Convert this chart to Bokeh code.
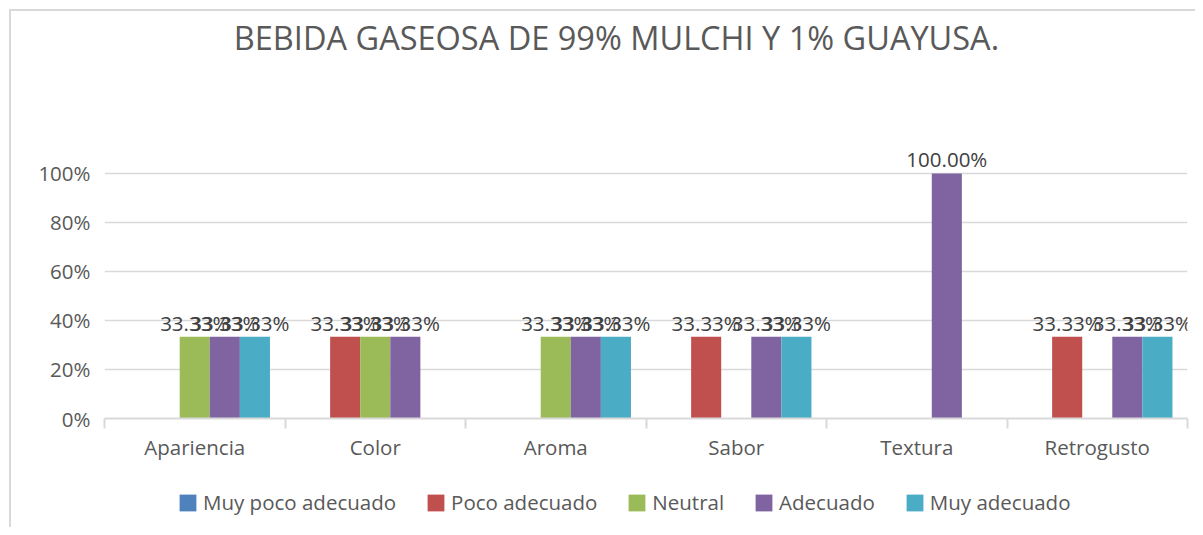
from bokeh.plotting import figure
from bokeh.layouts import column
from bokeh.models import (ColumnDataSource, Range1d, FixedTicker, NumeralTickFormatter,
                          Legend, LegendItem, Label)
from bokeh.embed import file_html
from bokeh.resources import INLINE
from bokeh.core.properties import value

title_text = "BEBIDA GASEOSA DE 99% MULCHI Y 1% GUAYUSA."
categories = ["Apariencia", "Color", "Aroma", "Sabor", "Textura", "Retrogusto"]
series_names = ["Muy poco adecuado", "Poco adecuado", "Neutral", "Adecuado", "Muy adecuado"]
muy_poco_adecuado = [0.0, 0.0, 0.0, 0.0, 0.0, 0.0]
poco_adecuado = [0.0, 0.3333, 0.0, 0.3333, 0.0, 0.3333]
neutral = [0.3333, 0.3333, 0.3333, 0.0, 0.0, 0.0]
adecuado = [0.3333, 0.3333, 0.3333, 0.3333, 1.0, 0.3333]
muy_adecuado = [0.3333, 0.0, 0.3333, 0.3333, 0.0, 0.3333]
y_ticks = [0.0, 0.2, 0.4, 0.6, 0.8, 1.0]

series_values = [muy_poco_adecuado, poco_adecuado, neutral, adecuado, muy_adecuado]
colors = ["#4F81BD", "#C0504D", "#9BBB59", "#8064A2", "#4BACC6"]

FONT = "Open Sans"
FS = "20.5px"
TXT = "#595959"
GRID = "#d9d9d9"

n = len(categories)
p = figure(width=1184, height=459, output_backend="svg", toolbar_location=None,
           x_range=Range1d(0, n), y_range=Range1d(0, 1.6612),
           min_border_left=93, min_border_right=8, min_border_top=0, min_border_bottom=52)
p.outline_line_color = None
p.background_fill_color = "white"
p.border_fill_color = "white"

bw = 1.0 / 6
centers = [i + 0.5 for i in range(n)]
bounds = [float(i) for i in range(n + 1)]

label_x, label_y, label_t = [], [], []
for k, (name, vals, col) in enumerate(zip(series_names, series_values, colors)):
    off = (k - 2) * bw
    xs = [c + off for c in centers]
    src = ColumnDataSource(dict(x=xs, top=vals))
    p.vbar(x="x", top="top", bottom=0, width=bw, source=src, fill_color=col, line_color=None)
    for x, v in zip(xs, vals):
        if v > 0:
            label_x.append(x)
            label_y.append(v)
            label_t.append(f"{v*100:.2f}%")

lsrc = ColumnDataSource(dict(x=label_x, y=label_y, t=label_t))
p.text(x="x", y="y", text="t", source=lsrc, text_align="center", text_baseline="bottom",
       y_offset=0, text_font=value(FONT), text_font_size=FS, text_color="#404040")

# axes
p.xaxis.ticker = FixedTicker(ticks=centers, minor_ticks=bounds)
p.xaxis.major_label_overrides = {c: cat for c, cat in zip(centers, categories)}
p.xaxis.major_tick_line_color = None
p.xaxis.major_tick_out = 0
p.xaxis.major_tick_in = 0
p.xaxis.minor_tick_out = 10
p.xaxis.minor_tick_in = 0
p.xaxis.minor_tick_line_color = GRID
p.xaxis.minor_tick_line_width = 2
p.xaxis.axis_line_color = GRID
p.xaxis.axis_line_width = 2
p.xaxis.major_label_text_font = FONT
p.xaxis.major_label_text_font_size = FS
p.xaxis.major_label_text_color = TXT
p.xaxis.major_label_standoff = 4

p.yaxis.ticker = FixedTicker(ticks=y_ticks)
p.yaxis.formatter = NumeralTickFormatter(format="0%")
p.yaxis.axis_line_color = None
p.yaxis.major_tick_line_color = None
p.yaxis.major_tick_out = 0
p.yaxis.major_tick_in = 0
p.yaxis.minor_tick_line_color = None
p.yaxis.major_label_text_font = FONT
p.yaxis.major_label_text_font_size = FS
p.yaxis.major_label_text_color = TXT
p.yaxis.major_label_standoff = 14

p.xgrid.grid_line_color = None
p.ygrid.ticker = FixedTicker(ticks=y_ticks)
p.ygrid.grid_line_color = GRID
p.ygrid.grid_line_width = 1.6

title = Label(x=512, y=381, x_units="screen", y_units="screen", text=title_text,
              text_align="center", text_baseline="middle", text_font=FONT,
              text_font_size="32.5px", text_color=TXT)
p.add_layout(title)

# legend strip
lg = figure(width=1184, height=57, output_backend="svg", toolbar_location=None,
            x_range=Range1d(0, 1), y_range=Range1d(0, 1),
            x_axis_location=None, y_axis_location=None,
            min_border_left=0, min_border_right=0, min_border_top=0, min_border_bottom=0)
lg.outline_line_color = None
lg.grid.visible = False
items = []
for name, col in zip(series_names, colors):
    r = lg.vbar(x=[0.5], top=[0.0], bottom=[0.0], width=0.0, fill_color=col, line_color=None)
    items.append(LegendItem(label=name, renderers=[r]))
legend = Legend(items=items, orientation="horizontal", location=(73, 11),
                label_text_font=FONT, label_text_font_size=FS, label_text_color=TXT,
                glyph_width=21, glyph_height=21, label_standoff=5, spacing=29,
                padding=0, margin=0, border_line_color=None, background_fill_alpha=0)
lg.add_layout(legend, "center")

layout = column(p, lg, spacing=0,
                styles={"margin-left": "9px", "margin-top": "9px",
                        "border-left": "2px solid #d9d9d9", "border-top": "2px solid #d9d9d9"})

open("out.html", "w").write(file_html(layout, INLINE))
